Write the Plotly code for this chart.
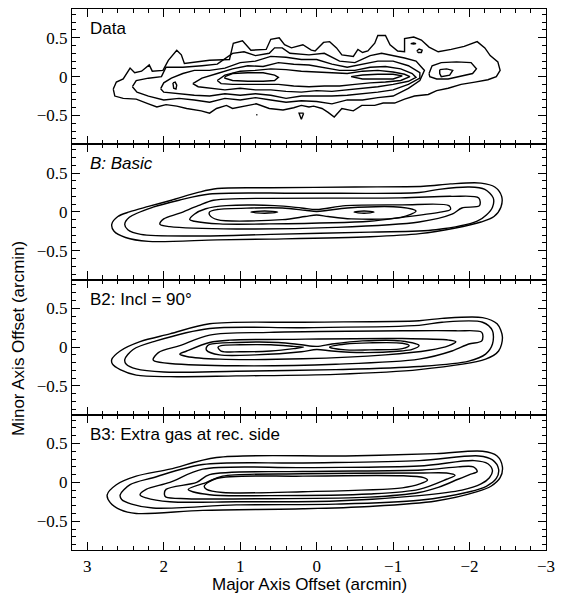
import plotly.graph_objects as go

# ---------------------------------------------------------------- axes / labels
X_RANGE = [3.2, -3.0]
Y_RANGE = [-0.87, 0.87]
X_TICKS = [3, 2, 1, 0, -1, -2, -3]
Y_TICKS = [-0.5, 0, 0.5]
PANEL_TITLES = ["Data", "<i>B: Basic</i>", "B2: Incl = 90°", "B3: Extra gas at rec. side"]
X_TITLE = "Major Axis Offset (arcmin)"
Y_TITLE = "Minor Axis Offset (arcmin)"

# ---------------------------------------------------------------- observed map
# closed contour paths (major offset, minor offset), outer level first
DATA_L1 = [(2.66, -0.16), (2.62, -0.07), (2.53, -0.03), (2.44, 0.11), (2.38, 0.05), (2.29, 0.07),
           (2.19, 0.15), (2.15, 0.07), (2.01, 0.08), (1.94, 0.21), (1.83, 0.34), (1.77, 0.28),
           (1.73, 0.17), (1.4, 0.21), (1.14, 0.22), (1.09, 0.43), (0.97, 0.46), (0.86, 0.34),
           (0.66, 0.35), (0.6, 0.48), (0.49, 0.5), (0.42, 0.41), (0.33, 0.37), (0.18, 0.41),
           (0.07, 0.34), (0.02, 0.33), (-0.09, 0.44), (-0.17, 0.45), (-0.26, 0.37), (-0.33, 0.28),
           (-0.48, 0.26), (-0.54, 0.35), (-0.6, 0.31), (-0.67, 0.33), (-0.76, 0.43), (-0.8, 0.53),
           (-0.9, 0.53), (-0.96, 0.41), (-1.06, 0.33), (-1.15, 0.32), (-1.15, 0.49), (-1.27, 0.51),
           (-1.37, 0.47), (-1.47, 0.38), (-1.59, 0.32), (-1.76, 0.35), (-1.93, 0.39), (-2.1, 0.45),
           (-2.2, 0.37), (-2.27, 0.27), (-2.37, 0.19), (-2.4, 0.08), (-2.35, 0.0), (-2.24, -0.04),
           (-2.07, -0.07), (-1.89, -0.1), (-1.72, -0.15), (-1.57, -0.18), (-1.46, -0.23),
           (-1.28, -0.25), (-1.15, -0.29), (-1.02, -0.34), (-0.87, -0.34), (-0.76, -0.37),
           (-0.59, -0.37), (-0.48, -0.44), (-0.33, -0.41), (-0.23, -0.52), (-0.15, -0.46),
           (-0.07, -0.41), (0.04, -0.38), (0.1, -0.39), (0.2, -0.37), (0.3, -0.4), (0.44, -0.43),
           (0.62, -0.41), (0.79, -0.35), (0.97, -0.39), (1.1, -0.41), (1.18, -0.37), (1.31, -0.41),
           (1.4, -0.47), (1.51, -0.44), (1.7, -0.41), (1.83, -0.38), (1.97, -0.36), (2.09, -0.39),
           (2.2, -0.35), (2.36, -0.29), (2.53, -0.28), (2.64, -0.25), (2.66, -0.16)]
DATA_L2 = [(2.41, -0.13), (2.36, -0.05), (2.2, -0.02), (2.03, 0.0), (1.97, 0.12), (1.75, 0.12),
           (1.5, 0.14), (1.3, 0.16), (1.1, 0.3), (0.95, 0.32), (0.8, 0.27), (0.62, 0.3),
           (0.55, 0.37), (0.45, 0.37), (0.35, 0.3), (0.1, 0.28), (-0.1, 0.3), (-0.3, 0.2),
           (-0.5, 0.18), (-0.7, 0.27), (-0.85, 0.3), (-1.0, 0.27), (-1.15, 0.24), (-1.3, 0.2),
           (-1.41, 0.08), (-1.35, -0.05), (-1.2, -0.15), (-1.0, -0.25), (-0.8, -0.27), (-0.6, -0.3),
           (-0.4, -0.3), (-0.2, -0.35), (0.0, -0.32), (0.2, -0.31), (0.4, -0.33), (0.6, -0.3),
           (0.8, -0.27), (1.0, -0.3), (1.2, -0.28), (1.4, -0.33), (1.6, -0.3), (1.8, -0.28),
           (2.0, -0.3), (2.2, -0.25), (2.35, -0.2), (2.41, -0.13)]
DATA_L2_EAST = [(-1.47, 0.04), (-1.51, 0.14), (-1.63, 0.18), (-1.83, 0.19), (-2.02, 0.18),
                (-2.09, 0.1), (-2.04, 0.04), (-1.89, 0.01), (-1.72, -0.03), (-1.57, -0.03),
                (-1.48, 0.0), (-1.47, 0.04)]
DATA_L2_SPOT = [(-1.31, 0.33), (-1.34, 0.355), (-1.38, 0.34), (-1.37, 0.31), (-1.33, 0.31),
                (-1.31, 0.33)]
DATA_L2_DASH = [(-1.23, 0.425), (-1.27, 0.432), (-1.3, 0.425), (-1.27, 0.42), (-1.23, 0.425)]
DATA_L1_SOUTH = [(0.17, -0.47), (0.23, -0.47), (0.2, -0.55), (0.17, -0.47)]
DATA_L1_DOT = [(0.775, -0.49), (0.79, -0.49)]
DATA_L3 = [(2.04, -0.155), (2.0, -0.08), (1.9, -0.02), (1.75, 0.04), (1.6, 0.08), (1.4, 0.08),
           (1.2, 0.11), (1.0, 0.18), (0.8, 0.2), (0.6, 0.26), (0.4, 0.25), (0.2, 0.22), (0.0, 0.22),
           (-0.2, 0.16), (-0.4, 0.12), (-0.6, 0.16), (-0.8, 0.2), (-1.0, 0.2), (-1.2, 0.14),
           (-1.35, 0.05), (-1.35, -0.02), (-1.2, -0.1), (-1.0, -0.17), (-0.8, -0.2), (-0.6, -0.22),
           (-0.4, -0.24), (-0.2, -0.25), (0.0, -0.25), (0.2, -0.25), (0.4, -0.28), (0.6, -0.24),
           (0.8, -0.22), (1.0, -0.24), (1.2, -0.22), (1.4, -0.25), (1.6, -0.24), (1.8, -0.22),
           (2.0, -0.2), (2.04, -0.155)]
DATA_L3_EAST = [(-1.61, 0.09), (-1.7, 0.1), (-1.78, 0.08), (-1.74, 0.02), (-1.63, 0.0),
                (-1.61, 0.04), (-1.61, 0.09)]
DATA_L4 = [(1.62, -0.09), (1.5, -0.02), (1.3, 0.04), (1.1, 0.1), (0.9, 0.14), (0.7, 0.13),
           (0.5, 0.18), (0.3, 0.16), (0.1, 0.15), (-0.1, 0.11), (-0.3, 0.08), (-0.5, 0.08),
           (-0.7, 0.12), (-0.9, 0.13), (-1.1, 0.1), (-1.25, 0.04), (-1.3, -0.01), (-1.2, -0.06),
           (-1.0, -0.1), (-0.8, -0.13), (-0.6, -0.15), (-0.4, -0.17), (-0.2, -0.19), (0.0, -0.18),
           (0.2, -0.2), (0.4, -0.19), (0.6, -0.17), (0.8, -0.17), (1.0, -0.15), (1.2, -0.17),
           (1.4, -0.15), (1.55, -0.13), (1.62, -0.09)]
DATA_L4_WEST = [(1.88, -0.08), (1.85, -0.07), (1.83, -0.11), (1.84, -0.16), (1.87, -0.15),
                (1.88, -0.08)]
DATA_L5 = [(1.3, -0.05), (1.2, 0.02), (1.0, 0.07), (0.8, 0.08), (0.6, 0.1), (0.4, 0.09),
           (0.2, 0.07), (0.0, 0.06), (-0.2, 0.05), (-0.4, 0.04), (-0.6, 0.07), (-0.8, 0.08),
           (-1.0, 0.06), (-1.15, 0.03), (-1.22, 0.0), (-1.1, -0.05), (-0.9, -0.07), (-0.7, -0.08),
           (-0.5, -0.1), (-0.3, -0.12), (-0.1, -0.12), (0.1, -0.13), (0.3, -0.12), (0.5, -0.1),
           (0.7, -0.1), (0.9, -0.1), (1.1, -0.1), (1.25, -0.09), (1.3, -0.05)]
DATA_L6_WEST = [(1.2, 0.0), (1.1, 0.04), (0.9, 0.05), (0.7, 0.05), (0.55, 0.02), (0.5, -0.01),
                (0.55, -0.05), (0.7, -0.06), (0.9, -0.06), (1.1, -0.05), (1.2, -0.02), (1.2, 0.0)]
DATA_L6_EAST = [(-0.45, 0.0), (-0.6, 0.02), (-0.8, 0.03), (-1.0, 0.03), (-1.12, 0.01),
                (-1.0, -0.03), (-0.8, -0.03), (-0.6, -0.03), (-0.45, 0.0)]

# ---------------------------------------------------------------- model B
B_L1 = [(2.68, -0.16), (2.6, -0.06), (2.45, 0.0), (2.2, 0.07), (1.9, 0.15), (1.55, 0.25),
        (1.3, 0.3), (0.6, 0.31), (-0.5, 0.32), (-1.4, 0.33), (-1.75, 0.36), (-2.15, 0.37),
        (-2.33, 0.32), (-2.42, 0.2), (-2.41, 0.06), (-2.32, -0.06), (-2.15, -0.13), (-1.8, -0.21),
        (-1.35, -0.28), (-0.7, -0.32), (0.6, -0.35), (1.3, -0.36), (2.2, -0.38), (2.5, -0.33),
        (2.65, -0.25)]
B_L2 = [(2.51, -0.16), (2.45, -0.07), (2.14, 0.06), (1.8, 0.15), (1.4, 0.23), (0.2, 0.24),
        (-1.34, 0.25), (-1.6, 0.29), (-2.0, 0.32), (-2.2, 0.29), (-2.31, 0.18), (-2.3, 0.06),
        (-2.22, -0.04), (-2.1, -0.12), (-1.56, -0.23), (-0.7, -0.26), (0.6, -0.29), (1.5, -0.31),
        (2.3, -0.29), (2.47, -0.23)]
B_L3 = [(2.05, -0.16), (2.0, -0.09), (1.8, -0.02), (1.55, 0.08), (1.35, 0.15), (1.0, 0.17),
        (-1.1, 0.18), (-1.77, 0.2), (-2.12, 0.18), (-2.13, 0.08), (-1.9, 0.05), (-1.77, -0.03),
        (-1.34, -0.13), (-0.25, -0.2), (1.05, -0.22), (1.92, -0.19)]
B_L4 = [(1.66, -0.1), (1.6, -0.03), (1.45, 0.04), (1.18, 0.08), (0.55, 0.08), (0.2, 0.05),
        (0.0, 0.03), (-0.38, 0.08), (-1.12, 0.09), (-1.73, 0.08), (-1.75, 0.03), (-1.64, 0.0),
        (-1.12, -0.07), (-0.69, -0.12), (0.62, -0.155), (1.27, -0.155), (1.6, -0.12)]
B_L5 = [(1.4, 0.0), (1.3, 0.03), (0.85, 0.05), (0.45, 0.05), (0.15, 0.02), (0.0, 0.005),
        (-0.15, 0.02), (-0.4, 0.05), (-1.1, 0.06), (-1.3, 0.01), (-1.1, -0.07), (-0.45, -0.09),
        (-0.15, -0.06), (0.0, -0.04), (0.15, -0.06), (0.45, -0.1), (1.3, -0.1), (1.4, -0.04)]
B_L6A = [(0.86, -0.003), (0.68, 0.012), (0.51, -0.003), (0.68, -0.018)]
B_L6B = [(-0.49, -0.003), (-0.62, 0.012), (-0.75, -0.003), (-0.62, -0.018)]

# ---------------------------------------------------------------- model B2
B2_L1 = [(2.68, -0.16), (2.57, -0.05), (2.31, 0.07), (1.92, 0.17), (1.4, 0.3), (0.18, 0.32),
         (-1.34, 0.34), (-1.64, 0.37), (-2.17, 0.38), (-2.36, 0.3), (-2.43, 0.13), (-2.38, -0.05),
         (-2.21, -0.155), (-1.34, -0.29), (-0.25, -0.35), (1.05, -0.37), (1.92, -0.38),
         (2.36, -0.36), (2.57, -0.29), (2.67, -0.22)]
B2_L2 = [(2.51, -0.16), (2.4, -0.03), (2.1, 0.08), (1.4, 0.24), (0.18, 0.25), (-1.34, 0.28),
         (-1.64, 0.32), (-2.17, 0.32), (-2.3, 0.21), (-2.3, 0.04), (-2.21, -0.09), (-1.99, -0.18),
         (-1.34, -0.25), (-0.25, -0.29), (1.05, -0.31), (2.0, -0.32), (2.36, -0.28), (2.49, -0.22)]
B2_L3 = [(2.14, -0.16), (2.07, -0.07), (1.79, 0.02), (1.4, 0.155), (0.62, 0.19), (-1.12, 0.21),
         (-1.82, 0.21), (-2.16, 0.19), (-2.16, 0.08), (-1.99, 0.04), (-1.77, -0.05),
         (-1.34, -0.155), (-0.25, -0.22), (1.05, -0.24), (1.92, -0.21), (2.12, -0.18)]
B2_L4 = [(1.79, -0.09), (1.7, -0.05), (1.4, 0.06), (1.14, 0.09), (0.4, 0.1), (-1.12, 0.11),
         (-1.73, 0.09), (-1.82, 0.07), (-1.73, 0.02), (-1.47, -0.04), (-0.9, -0.1), (0.18, -0.15),
         (1.27, -0.155), (1.7, -0.12)]
B2_L5 = [(1.44, 0.0), (1.4, 0.035), (1.05, 0.06), (0.5, 0.06), (0.2, 0.03), (0.0, 0.01),
         (-0.2, 0.04), (-0.6, 0.08), (-1.1, 0.08), (-1.34, 0.02), (-1.25, -0.03), (-1.1, -0.05),
         (-0.6, -0.07), (-0.2, -0.05), (0.0, -0.03), (0.2, -0.06), (0.8, -0.1), (1.27, -0.1),
         (1.44, -0.04)]
B2_L6A = [(1.29, 0.0), (1.25, 0.02), (1.0, 0.03), (0.6, 0.03), (0.3, 0.01), (0.17, 0.0),
          (0.3, -0.02), (0.6, -0.05), (1.0, -0.06), (1.25, -0.05)]
B2_L6B = [(-0.17, 0.0), (-0.38, 0.04), (-0.69, 0.055), (-1.12, 0.05), (-1.21, 0.02),
          (-1.12, -0.02), (-0.69, -0.035), (-0.38, -0.035)]

# ---------------------------------------------------------------- model B3
B3_L1 = [(2.74, -0.16), (2.62, -0.03), (2.36, 0.08), (1.92, 0.17), (1.31, 0.32), (-0.38, 0.34),
         (-1.56, 0.37), (-2.17, 0.4), (-2.36, 0.34), (-2.43, 0.2), (-2.4, 0.06), (-2.28, -0.05),
         (-2.1, -0.12), (-1.56, -0.24), (-0.69, -0.31), (0.18, -0.34), (1.49, -0.36),
         (2.36, -0.4), (2.57, -0.35), (2.7, -0.26)]
B3_L2 = [(2.57, -0.16), (2.44, -0.03), (2.14, 0.06), (1.49, 0.23), (0.18, 0.25), (-1.34, 0.28),
         (-2.12, 0.34), (-2.3, 0.29), (-2.38, 0.17), (-2.35, 0.05), (-2.22, -0.05), (-2.0, -0.12),
         (-1.34, -0.23), (-0.25, -0.28), (1.05, -0.29), (2.14, -0.33), (2.42, -0.28), (2.55, -0.22)]
B3_L3 = [(2.31, -0.16), (2.23, -0.09), (1.92, 0.0), (1.49, 0.17), (0.18, 0.19), (-1.34, 0.21),
         (-2.06, 0.28), (-2.24, 0.24), (-2.3, 0.15), (-2.26, 0.06), (-2.15, -0.02), (-1.9, -0.1),
         (-1.34, -0.17), (-0.25, -0.24), (1.05, -0.25), (1.92, -0.25), (2.23, -0.2)]
B3_L4 = [(1.99, -0.16), (1.97, -0.09), (1.57, 0.0), (1.4, 0.1), (0.18, 0.14), (-1.38, 0.16),
         (-1.85, 0.2), (-2.05, 0.2), (-2.1, 0.14), (-2.0, 0.1), (-1.85, 0.04), (-1.6, -0.06),
         (-1.34, -0.13), (-0.69, -0.19), (0.62, -0.21), (1.7, -0.21), (1.97, -0.19)]
B3_L5 = [(1.68, -0.09), (1.44, 0.0), (1.23, 0.08), (0.18, 0.11), (-1.34, 0.12), (-1.7, 0.12),
         (-1.81, 0.09), (-1.7, 0.04), (-1.34, -0.09), (-0.69, -0.15), (0.62, -0.17), (1.4, -0.16)]
B3_L6 = [(1.47, -0.05), (1.31, 0.05), (0.18, 0.08), (-1.12, 0.085), (-1.4, 0.06), (-1.45, 0.03),
         (-1.35, -0.02), (-1.12, -0.07), (0.18, -0.12), (1.23, -0.13), (1.44, -0.09)]

PANELS = [
    ([DATA_L1, DATA_L1_SOUTH, DATA_L1_DOT, DATA_L2, DATA_L2_EAST, DATA_L2_SPOT, DATA_L2_DASH,
      DATA_L3, DATA_L3_EAST, DATA_L4, DATA_L4_WEST, DATA_L5, DATA_L6_WEST, DATA_L6_EAST], False),
    ([B_L1, B_L2, B_L3, B_L4, B_L5, B_L6A, B_L6B], True),
    ([B2_L1, B2_L2, B2_L3, B2_L4, B2_L5, B2_L6A, B2_L6B], True),
    ([B3_L1, B3_L2, B3_L3, B3_L4, B3_L5, B3_L6], True),
]


def ring(points, smooth):
    """Return x/y lists of a closed path; smooth paths start on their lowest vertex."""
    pts = list(points)
    if smooth:
        if pts[0] == pts[-1]:
            pts = pts[:-1]
        k = min(range(len(pts)), key=lambda i: pts[i][1])
        pts = pts[k:] + pts[:k]
        pts.append(pts[0])
    return [p[0] for p in pts], [p[1] for p in pts]


fig = go.Figure()
n = len(PANELS)
for i, (paths, smooth) in enumerate(PANELS):
    ax = "" if i == 0 else str(i + 1)
    for path in paths:
        xs, ys = ring(path, smooth)
        fig.add_trace(go.Scatter(
            x=xs, y=ys, mode="lines", xaxis="x" + ax, yaxis="y" + ax,
            line=dict(color="black", width=1.4,
                      shape="spline" if smooth else "linear", smoothing=0.9),
            hoverinfo="skip", showlegend=False))

axis_common = dict(showline=True, linecolor="black", linewidth=1.2, mirror="ticks",
                   ticks="inside", tickcolor="black", tickwidth=1, showgrid=False,
                   zeroline=False)
tick_font = dict(family="Liberation Serif, DejaVu Serif, serif", size=17, color="black")

layout = dict(width=563, height=593, margin=dict(l=72, r=12, t=8, b=43),
              plot_bgcolor="white", paper_bgcolor="white", showlegend=False)
for i in range(n):
    ax = "" if i == 0 else str(i + 1)
    top = 1 - i / n
    bottom = 1 - (i + 1) / n
    layout["xaxis" + ax] = dict(
        axis_common, range=X_RANGE, tickvals=X_TICKS, ticklen=8,
        minor=dict(dtick=0.2, tick0=0, ticks="inside", ticklen=4, tickcolor="black"),
        anchor="y" + ax, showticklabels=(i == n - 1), tickfont=tick_font,
        **({} if i == 0 else {"matches": "x"}))
    layout["yaxis" + ax] = dict(
        axis_common, range=Y_RANGE, tickvals=Y_TICKS, ticklen=8,
        minor=dict(dtick=0.1, tick0=0, ticks="inside", ticklen=4, tickcolor="black"),
        domain=[bottom, top], anchor="x" + ax, tickfont=tick_font)

label_font = dict(family="Liberation Sans, Arial, sans-serif", size=17, color="black")
annotations = []
for i, title in enumerate(PANEL_TITLES):
    ax = "" if i == 0 else str(i + 1)
    annotations.append(dict(
        text=title, xref="x" + ax + " domain", yref="y" + ax + " domain",
        x=0.033, y=0.855, xanchor="left", yanchor="middle", showarrow=False,
        font=label_font))
annotations.append(dict(
    text=X_TITLE, xref="paper", yref="paper", x=0.5, y=0, yshift=-34,
    xanchor="center", yanchor="middle", showarrow=False, font=label_font))
annotations.append(dict(
    text=Y_TITLE, xref="paper", yref="paper", x=0, xshift=-54, y=0.39,
    xanchor="center", yanchor="middle", textangle=-90, showarrow=False, font=label_font))
layout["annotations"] = annotations

fig.update_layout(**layout)
fig.write_html("out.html")
